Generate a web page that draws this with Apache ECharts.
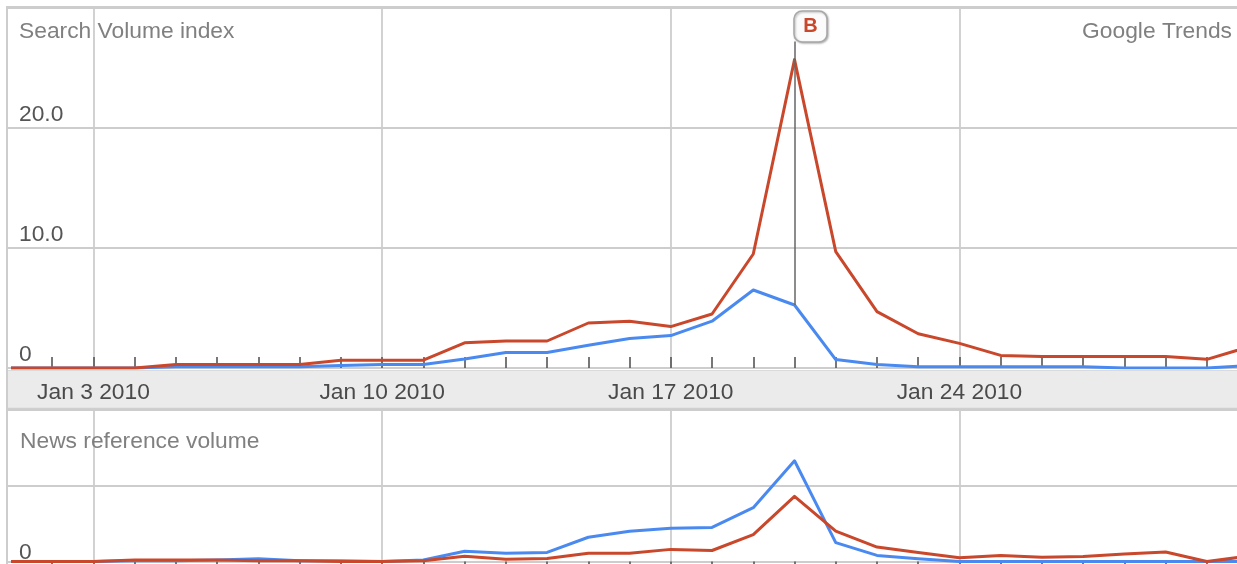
<!DOCTYPE html>
<html>
<head>
<meta charset="utf-8">
<script src="https://cdn.jsdelivr.net/npm/echarts@6/dist/echarts.min.js"></script>
<style>
html,body{margin:0;padding:0;background:#fff;}
#chart{width:1237px;height:564px;}
</style>
</head>
<body>
<div id="chart"></div>
<script>
// ---- data (January 2010, day of month) ----
const days = [1,2,3,4,5,6,7,8,9,10,11,12,13,14,15,16,17,18,19,20,21,22,23,24,25,26,27,28,29,30,31];
// Search Volume index
const searchRed  = [0,0,0,0,0.3,0.3,0.3,0.3,0.65,0.65,0.65,2.1,2.25,2.25,3.75,3.9,3.45,4.5,9.5,25.7,9.7,4.7,2.85,2.05,1.05,0.95,0.95,0.95,0.95,0.72,1.75];
const searchBlue = [0,0,0,0,0.1,0.1,0.1,0.1,0.2,0.3,0.3,0.75,1.3,1.3,1.9,2.45,2.7,3.9,6.5,5.25,0.7,0.3,0.1,0.1,0.1,0.1,0.1,0,0,0,0.2];
// News reference volume
const newsRed  = [0,0,0,0.02,0.02,0.02,0.01,0.01,0,0,0.01,0.07,0.03,0.04,0.11,0.11,0.16,0.145,0.355,0.86,0.4,0.19,0.12,0.05,0.08,0.055,0.065,0.1,0.125,0,0.07];
const newsBlue = [0,0,0,0.01,0.01,0.02,0.035,0.01,0.01,0,0.02,0.135,0.11,0.12,0.32,0.4,0.44,0.45,0.71,1.33,0.25,0.08,0.035,0,0,0,0,0,0,0,0];
// axes
const tickDays = [2,3,4,5,6,7,8,9,10,11,12,13,14,15,16,17,18,19,20,21,22,23,24,25,26,27,28,29,30];
const weekDays = [3,10,17,24];
const weekLabels = ['Jan 3 2010','Jan 10 2010','Jan 17 2010','Jan 24 2010'];
const searchTicks = [0,10,20,30];
const newsTicks = [0,1,2];
// annotation
const markerDay = 20;
const markerLabel = 'B';

const RED = '#c9482c', BLUE = '#4a8af0', GRID = '#cdcdcd', FONT = 'Liberation Sans', FS = 22.8;
const xMin = 0.903, xMax = 30.73;

function pairs(arr){ return days.map((d,i)=>[d, arr[i]]); }

const chart = echarts.init(document.getElementById('chart'), null, {renderer:'canvas'});

const dataAxis = (grid, pos, tickLen) => ({
  type:'value', gridIndex:grid, min:xMin, max:xMax, position:pos,
  axisLine:{show:false},
  axisTick:{show:true, inside:true, length:tickLen, customValues:tickDays, lineStyle:{color:'#555', width:1.6}},
  axisLabel:{show:false},
  splitLine:{show:false}
});
const weekAxis = (grid) => ({
  type:'value', gridIndex:grid, min:xMin, max:xMax,
  axisLine:{show:false},
  axisTick:{show:false, customValues:weekDays},
  axisLabel:{show:false},
  splitLine:{show:true, lineStyle:{color:GRID, width:1.8}}
});

const xTop = dataAxis(0,'bottom',11);
xTop.axisLabel = {
  show:true, customValues:weekDays, margin:25, verticalAlign:'middle',
  color:'#4a4a4a', fontFamily:FONT, fontSize:FS,
  formatter:(v)=>weekLabels[weekDays.indexOf(v)]
};

const titleStyle = {fontFamily:FONT, fontSize:FS, fontWeight:'normal', color:'#808080'};
const option = {
  animation:false,
  backgroundColor:'#fff',
  title:[
    {text:'Search Volume index', left:14, top:15, textStyle:titleStyle},
    {text:'Google Trends', right:0, top:15, textStyle:titleStyle},
    {text:'News reference volume', left:15, top:425, textStyle:titleStyle}
  ],
  grid:[
    {left:7, right:0, top:8, height:360, show:false},
    {left:7, right:0, top:410, bottom:2, show:false}
  ],
  graphic:[
    {type:'rect', z:-1, shape:{x:7, y:370, width:1240, height:38}, style:{fill:'#ebebeb'}},
    {type:'line', z:-1, shape:{x1:7, y1:370.5, x2:1237, y2:370.5}, style:{stroke:'#dadada', lineWidth:1}},
    {type:'line', z:-1, shape:{x1:7, y1:408.5, x2:1237, y2:408.5}, style:{stroke:'#cfcfcf', lineWidth:1.5}},
    {type:'line', z:10, shape:{x1:7, y1:7, x2:1237, y2:7}, style:{stroke:GRID, lineWidth:2}},
    {type:'line', z:10, shape:{x1:7, y1:6, x2:7, y2:564}, style:{stroke:GRID, lineWidth:2}}
  ],
  xAxis:[ xTop, weekAxis(0), dataAxis(1,'top',12), weekAxis(1) ],
  yAxis:[
    {type:'value', gridIndex:0, min:searchTicks[0], max:searchTicks[3], interval:10,
     axisLine:{show:false}, axisTick:{show:false},
     axisLabel:{inside:true, margin:12, verticalAlign:'bottom', lineHeight:22, padding:[0,0,2,0],
       color:'#555', fontFamily:FONT, fontSize:FS,
       formatter:(v)=> v===0 ? '0' : (v===searchTicks[3] ? '' : v.toFixed(1))},
     splitLine:{show:true, lineStyle:{color:GRID, width:1.8}}},
    {type:'value', gridIndex:1, min:newsTicks[0], max:newsTicks[2], interval:1,
     axisLine:{show:false}, axisTick:{show:false},
     axisLabel:{inside:true, margin:12, verticalAlign:'bottom', lineHeight:18, padding:[0,0,0,0],
       color:'#555', fontFamily:FONT, fontSize:FS,
       formatter:(v)=> v===0 ? '0' : ''},
     splitLine:{show:true, lineStyle:{color:GRID, width:1.8}}}
  ],
  series:[
    {type:'line', xAxisIndex:0, yAxisIndex:0, data:pairs(searchBlue), showSymbol:false, symbol:'none',
     lineStyle:{color:BLUE, width:3, join:'round'}, z:3,
     markLine:{silent:true, symbol:['none','none'], label:{show:false},
       lineStyle:{color:'#666', width:1.5, type:'solid'},
       data:[[{coord:[markerDay, searchBlue[days.indexOf(markerDay)]]},{coord:[markerDay, 27.2]}]]},
     markPoint:{silent:true, symbol:'roundRect', symbolSize:[33,31], symbolOffset:[16,0],
       itemStyle:{color:'#fbfbfb', borderColor:'#a8a8a8', borderWidth:1.5, shadowColor:'rgba(0,0,0,0.25)', shadowBlur:2, shadowOffsetX:1, shadowOffsetY:1},
       label:{show:true, formatter:markerLabel, color:RED, fontFamily:FONT, fontWeight:'bold', fontSize:20},
       data:[{coord:[markerDay, 28.45]}]}},
    {type:'line', xAxisIndex:0, yAxisIndex:0, data:pairs(searchRed), showSymbol:false, symbol:'none',
     lineStyle:{color:RED, width:3, join:'round'}, z:4},
    {type:'line', xAxisIndex:2, yAxisIndex:1, data:pairs(newsBlue), showSymbol:false, symbol:'none',
     lineStyle:{color:BLUE, width:3, join:'round'}, z:3},
    {type:'line', xAxisIndex:2, yAxisIndex:1, data:pairs(newsRed), showSymbol:false, symbol:'none',
     lineStyle:{color:RED, width:3, join:'round'}, z:4}
  ]
};
chart.setOption(option);
</script>
</body>
</html>
